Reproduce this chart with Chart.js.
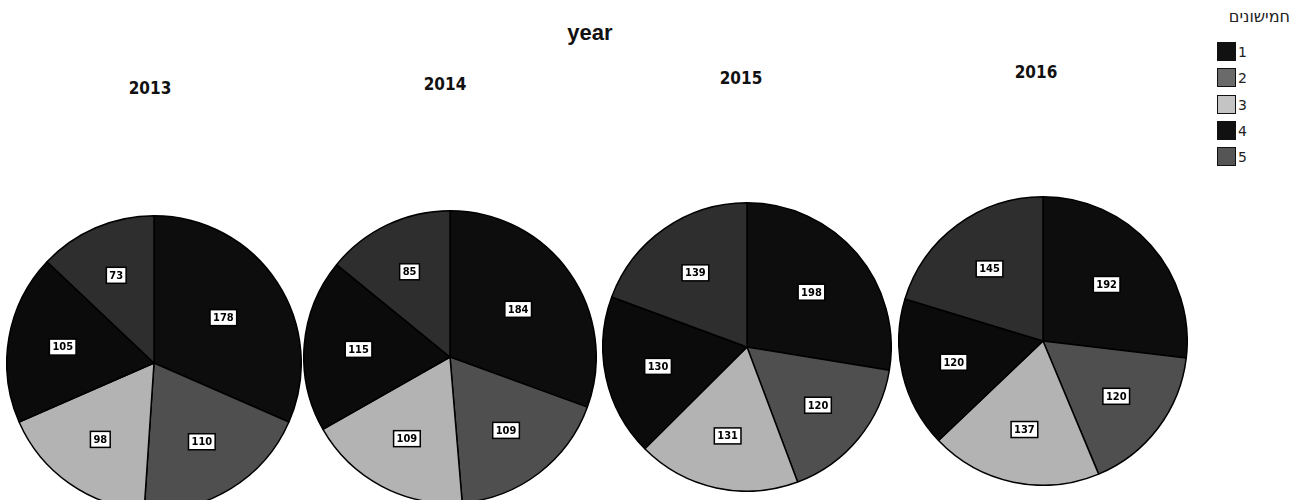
<!DOCTYPE html>
<html>
<head>
<meta charset="utf-8">
<script src="https://cdn.jsdelivr.net/npm/chart.js@4"></script>
<style>
  body { margin: 0; width: 1294px; height: 500px; overflow: hidden; background: #fff; position: relative; font-family: "DejaVu Sans", sans-serif; }
  .pie { position: absolute; }
  .txt { position: absolute; transform: translate(-50%, -50%); white-space: nowrap; color: #111; }
  .year { font-family: "DejaVu Sans Condensed", "DejaVu Sans", sans-serif; font-weight: bold; font-size: 17px; }
  #title { font-family: "Liberation Sans", Arial, sans-serif; font-weight: bold; font-size: 22px; }
  #legTitle { position: absolute; right: 4px; top: 7px; font-size: 16px; direction: rtl; color: #222; }
  .leg { position: absolute; left: 1217px; font-size: 14px; color: #222; }
  .leg span.sw { display: inline-block; width: 19px; height: 19px; border: 1px solid #111; vertical-align: middle; box-sizing: border-box; }
  .leg span.lb { vertical-align: middle; margin-left: 2px; }
</style>
</head>
<body>
<div id="title" class="txt" style="left:590px;top:33px">year</div>
<div id="legTitle">חמישונים</div>

<script>
// quintile categories and counts per year (slice order clockwise from 12 o'clock)
const quintiles = ["1", "2", "3", "4", "5"];
const years = ["2013", "2014", "2015", "2016"];
const counts2013 = [178, 110, 98, 105, 73];
const counts2014 = [184, 109, 109, 115, 85];
const counts2015 = [198, 120, 131, 130, 139];
const counts2016 = [192, 120, 137, 120, 145];
const sliceColors = ["#0d0d0d", "#4f4f4f", "#b3b3b3", "#0b0b0b", "#2e2e2e"];
const legendColors = ["#111111", "#6a6a6a", "#c4c4c4", "#111111", "#555555"];

// where each pie sits on the page
const layout = [
    {cx: 154, cy: 363, r: 147, tx: 150, ty: 88},
    {cx: 450, cy: 357, r: 146, tx: 445, ty: 84},
    {cx: 747, cy: 347, r: 144, tx: 741, ty: 78},
    {cx: 1043, cy: 341, r: 144, tx: 1036, ty: 72}
];
const allCounts = [counts2013, counts2014, counts2015, counts2016];

// boxed value labels placed at each slice's centroid
const boxLabels = {
    id: "boxLabels",
    afterDatasetsDraw(chart) {
        const ctx = chart.ctx;
        const meta = chart.getDatasetMeta(0);
        const values = chart.data.datasets[0].data;
        ctx.save();
        ctx.font = "bold 11px 'DejaVu Sans Condensed', 'DejaVu Sans', sans-serif";
        ctx.textAlign = "center";
        ctx.textBaseline = "middle";
        meta.data.forEach((arc, i) => {
            const p = arc.getProps(["x", "y", "startAngle", "endAngle", "outerRadius"], true);
            const theta = p.endAngle - p.startAngle;
            const mid = (p.startAngle + p.endAngle) / 2;
            const d = 4 * p.outerRadius * Math.sin(theta / 2) / (3 * theta);
            const x = p.x + Math.cos(mid) * d;
            const y = p.y + Math.sin(mid) * d;
            const text = String(values[i]);
            const w = ctx.measureText(text).width + 6;
            const h = 16;
            ctx.fillStyle = "#fff";
            ctx.fillRect(x - w / 2, y - h / 2, w, h);
            ctx.strokeStyle = "#000";
            ctx.lineWidth = 1.5;
            ctx.strokeRect(x - w / 2, y - h / 2, w, h);
            ctx.fillStyle = "#000";
            ctx.fillText(text, x, y + 0.5);
        });
        ctx.restore();
    }
};

years.forEach((year, k) => {
    const L = layout[k];
    const label = document.createElement("div");
    label.className = "txt year";
    label.style.left = L.tx + "px";
    label.style.top = L.ty + "px";
    label.textContent = year;
    document.body.appendChild(label);

    const box = document.createElement("div");
    box.className = "pie";
    const size = 2 * L.r + 2;
    box.style.left = (L.cx - size / 2) + "px";
    box.style.top = (L.cy - size / 2) + "px";
    box.style.width = size + "px";
    box.style.height = size + "px";
    const canvas = document.createElement("canvas");
    box.appendChild(canvas);
    document.body.appendChild(box);

    new Chart(canvas, {
        type: "pie",
        data: {
            labels: quintiles,
            datasets: [{
                data: allCounts[k],
                backgroundColor: sliceColors,
                borderColor: "#000",
                borderWidth: 1.5
            }]
        },
        options: {
            responsive: true,
            maintainAspectRatio: false,
            animation: false,
            layout: { padding: 0 },
            plugins: {
                legend: { display: false },
                tooltip: { enabled: false }
            }
        },
        plugins: [boxLabels]
    });
});

// legend
const legTops = [42, 68, 95, 121, 147];
quintiles.forEach((q, i) => {
    const item = document.createElement("div");
    item.className = "leg";
    item.style.top = legTops[i] + "px";
    item.innerHTML = '<span class="sw" style="background:' + legendColors[i] + '"></span><span class="lb">' + q + '</span>';
    document.body.appendChild(item);
});
</script>
</body>
</html>
